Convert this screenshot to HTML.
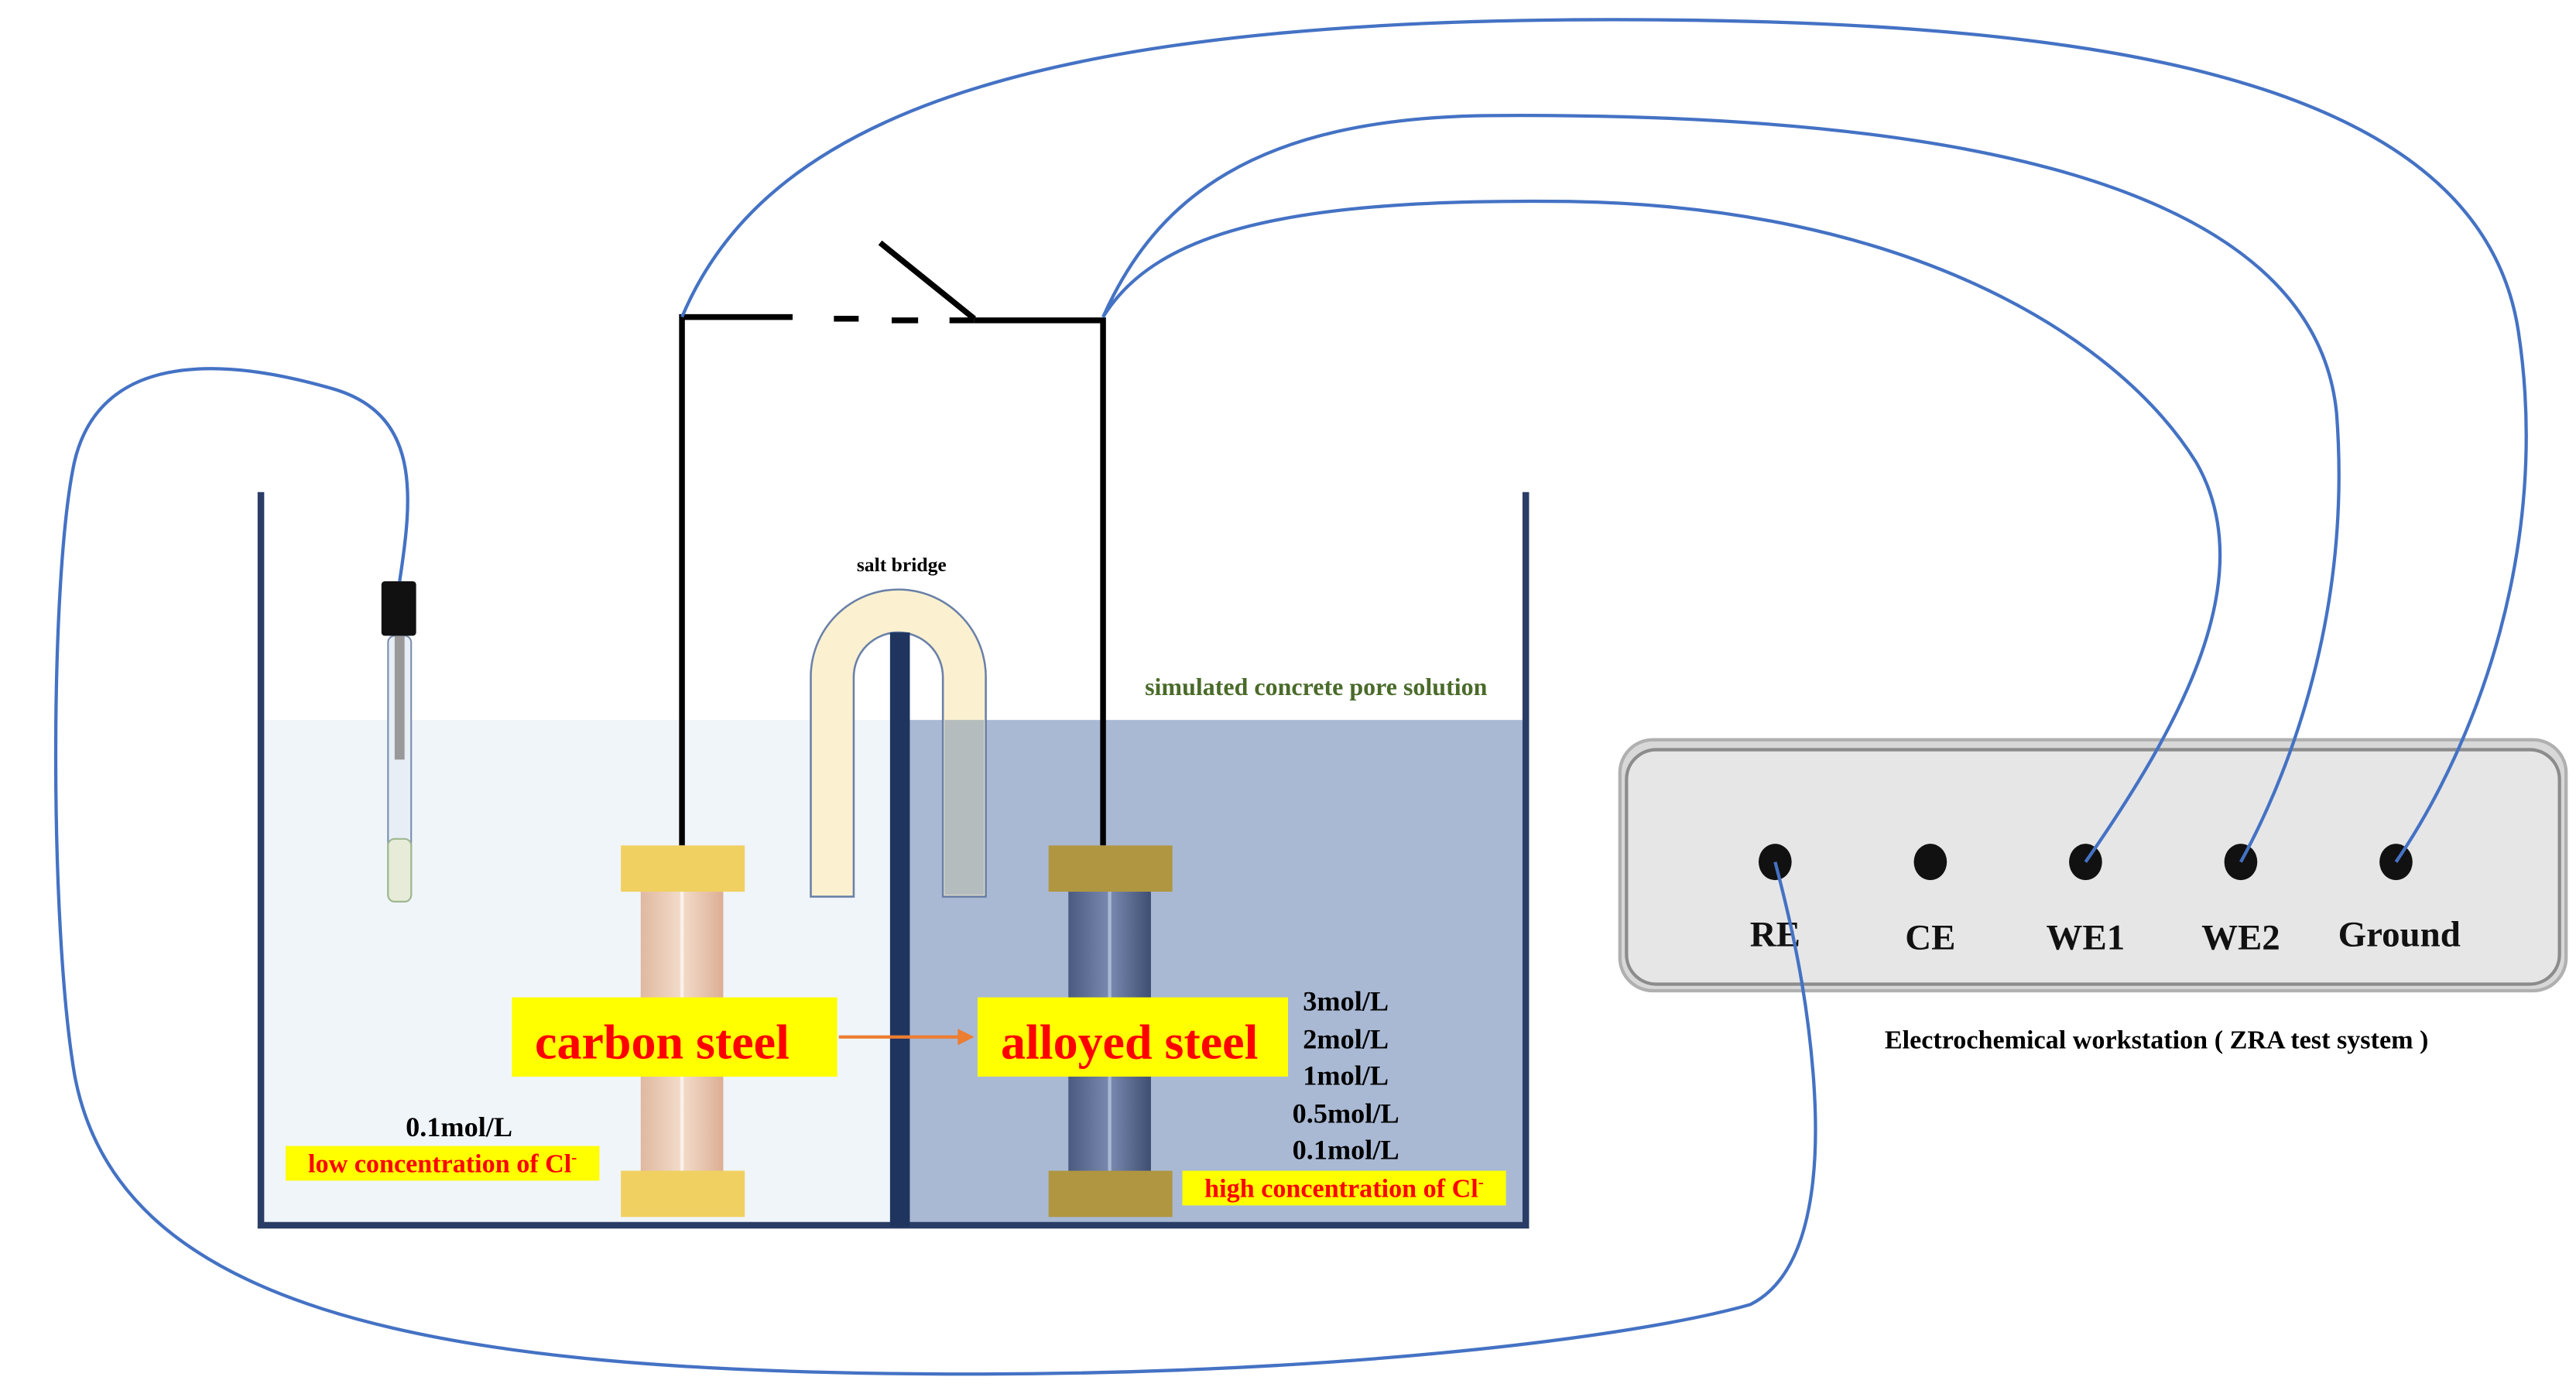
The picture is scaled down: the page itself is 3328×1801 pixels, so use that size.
<!DOCTYPE html>
<html><head><meta charset="utf-8"><style>html,body{margin:0;padding:0;background:#fff}svg{display:block}</style></head>
<body>
<svg width="3328" height="1801" viewBox="0 0 1560 844.2" preserveAspectRatio="none" xmlns="http://www.w3.org/2000/svg" font-family="Liberation Serif, serif" font-weight="bold">
<defs>
<linearGradient id="cs" x1="0" x2="1"><stop offset="0" stop-color="#e0b8a0"/><stop offset="0.5" stop-color="#f3dccb"/><stop offset="1" stop-color="#dcae94"/></linearGradient>
<linearGradient id="as" x1="0" x2="1"><stop offset="0" stop-color="#4a5a80"/><stop offset="0.5" stop-color="#7a8ab0"/><stop offset="1" stop-color="#3e4d72"/></linearGradient>
</defs>
<rect x="159" y="436" width="386" height="305" fill="#f0f5fa"/>
<rect x="551" y="436" width="371" height="305" fill="#a9b9d4"/>
<path d="M158,298 V742 H924 V298" fill="none" stroke="#2a3d66" stroke-width="4"/>
<path d="M491,543 V410 A53,53 0 0 1 597,410 V543 H571 V410 A27,27 0 0 0 517,410 V543 Z" fill="#fbf1d0" stroke="#6a80a8" stroke-width="1.2"/>
<rect x="572" y="436" width="24" height="106" fill="#a4afb8" opacity="0.8"/>
<rect x="539" y="383" width="12" height="360" fill="#1f3560"/>
<g stroke="#000" stroke-width="3.5" fill="none">
<path d="M413,512 V192 H480"/>
<path d="M505,193 H520 M540,194 H556 M575,194 H590"/>
<path d="M590,194 H668 V512"/>
<path d="M533,147 L590,193"/>
</g>
<rect x="388" y="540" width="50" height="170" fill="url(#cs)"/>
<line x1="413" y1="540" x2="413" y2="710" stroke="#fff" stroke-width="2" opacity="0.6"/>
<rect x="376" y="512" width="75" height="28" fill="#f0d060"/>
<rect x="376" y="709" width="75" height="28" fill="#f0d060"/>
<rect x="647" y="540" width="50" height="170" fill="url(#as)"/>
<line x1="672" y1="540" x2="672" y2="710" stroke="#a9b9d4" stroke-width="2"/>
<rect x="635" y="512" width="75" height="28" fill="#b09640"/>
<rect x="635" y="709" width="75" height="28" fill="#b09640"/>
<rect x="235" y="385" width="14" height="161" rx="4" fill="#e8eef6" stroke="#7a90b0" stroke-width="1"/>
<rect x="239" y="385" width="6" height="75" fill="#999"/>
<rect x="235" y="508" width="14" height="38" rx="4" fill="#e6ecd8" stroke="#a0b890" stroke-width="1"/>
<rect x="231" y="352" width="21" height="33" rx="2" fill="#111"/>
<text x="546" y="346" font-size="12" text-anchor="middle">salt bridge</text>
<text x="797" y="421" font-size="15" text-anchor="middle" fill="#4a6b2a">simulated concrete pore solution</text>
<rect x="310" y="604" width="197" height="48" fill="#ffff00"/>
<text x="401" y="641" font-size="30" fill="#ff0000" text-anchor="middle">carbon steel</text>
<rect x="592" y="604" width="188" height="48" fill="#ffff00"/>
<text x="684" y="641" font-size="30" fill="#ff0000" text-anchor="middle">alloyed steel</text>
<line x1="508" y1="628" x2="582" y2="628" stroke="#ed7d31" stroke-width="2"/>
<path d="M590,628 L580,623 L580,633 Z" fill="#ed7d31"/>
<g font-size="17" text-anchor="middle">
<text x="815" y="612">3mol/L</text>
<text x="815" y="635">2mol/L</text>
<text x="815" y="657">1mol/L</text>
<text x="815" y="680">0.5mol/L</text>
<text x="815" y="702">0.1mol/L</text>
<text x="278" y="688">0.1mol/L</text>
</g>
<rect x="716" y="709" width="196" height="21" fill="#ffff00"/>
<text x="814" y="725" font-size="16" fill="#ff0000" text-anchor="middle">high concentration  of Cl<tspan font-size="10" dy="-6">-</tspan></text>
<rect x="173" y="694" width="190" height="21" fill="#ffff00"/>
<text x="268" y="710" font-size="16" fill="#ff0000" text-anchor="middle">low concentration of Cl<tspan font-size="10" dy="-6">-</tspan></text>
<rect x="981" y="448" width="573" height="152" rx="20" fill="#d8d8d8" stroke="#b0b0b0" stroke-width="2"/>
<rect x="985" y="454" width="565" height="142" rx="18" fill="#e6e6e6" stroke="#8c8c8c" stroke-width="2"/>
<g fill="#111">
<ellipse cx="1075" cy="522" rx="10" ry="11"/>
<ellipse cx="1169" cy="522" rx="10" ry="11"/>
<ellipse cx="1263" cy="522" rx="10" ry="11"/>
<ellipse cx="1357" cy="522" rx="10" ry="11"/>
<ellipse cx="1451" cy="522" rx="10" ry="11"/>
</g>
<g font-size="22" text-anchor="middle" fill="#111">
<text x="1075" y="573">RE</text>
<text x="1169" y="575">CE</text>
<text x="1263" y="575">WE1</text>
<text x="1357" y="575">WE2</text>
<text x="1453" y="573">Ground</text>
</g>
<text x="1306" y="635" font-size="16" text-anchor="middle">Electrochemical workstation ( ZRA test system )</text>
<g stroke="#4472c4" stroke-width="2" fill="none">
<path d="M242,352 C250,300 255,250 200,235 C130,215 60,215 45,280 C30,350 30,560 45,650 C70,790 250,830 560,832 C800,834 990,810 1060,790 C1100,770 1102,700 1098,650 C1094,600 1085,560 1075,522"/>
<path d="M413,192 C460,80 600,15 950,12 C1250,10 1500,40 1525,200 C1545,330 1500,450 1451,522"/>
<path d="M668,192 C700,120 760,72 900,70 C1150,68 1400,100 1415,250 C1425,380 1380,480 1357,522"/>
<path d="M668,192 C700,140 780,120 950,122 C1150,125 1280,200 1330,280 C1370,350 1320,440 1263,522"/>
</g>
</svg>
</body></html>
